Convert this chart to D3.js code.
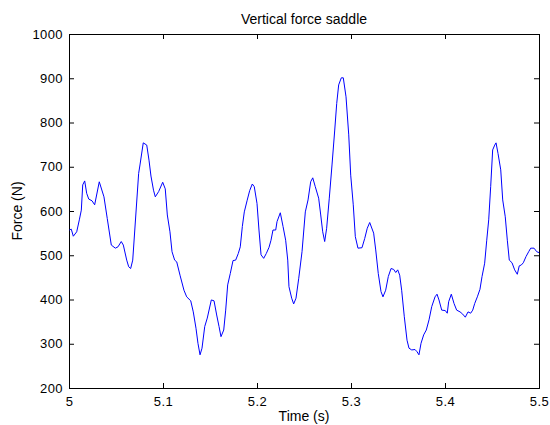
<!DOCTYPE html>
<html>
<head>
<meta charset="utf-8">
<script src="https://cdn.jsdelivr.net/npm/d3@7"></script>
<style>
  body { margin: 0; background: #fff; }
  svg text { font-family: "Liberation Sans", Arial, sans-serif; fill: #000; }
</style>
</head>
<body>
<div id="chart"></div>
<script>
// values
var times = [5.0003,5.0024,5.0046,5.0082,5.0110,5.0131,5.0146,5.0167,5.0188,5.0210,
  5.0245,5.0273,5.0322,5.0372,5.0407,5.0450,5.0493,5.0521,5.0556,5.0578,
  5.0614,5.0635,5.0656,5.0678,5.0741,5.0755,5.0790,5.0827,5.0851,5.0872,
  5.0899,5.0918,5.0954,5.0997,5.1024,5.1046,5.1074,5.1096,5.1124,5.1146,
  5.1181,5.1223,5.1252,5.1295,5.1322,5.1351,5.1372,5.1394,5.1415,5.1444,
  5.1471,5.1514,5.1543,5.1571,5.1596,5.1617,5.1646,5.1667,5.1688,5.1716,
  5.1745,5.1773,5.1801,5.1822,5.1844,5.1865,5.1894,5.1922,5.1950,5.1971,
  5.2000,5.2021,5.2043,5.2071,5.2099,5.2128,5.2149,5.2170,5.2199,5.2213,
  5.2248,5.2277,5.2305,5.2327,5.2340,5.2369,5.2390,5.2415,5.2444,5.2479,
  5.2514,5.2543,5.2571,5.2593,5.2620,5.2656,5.2678,5.2699,5.2720,5.2741,
  5.2769,5.2798,5.2827,5.2848,5.2869,5.2897,5.2918,5.2947,5.2976,5.2997,
  5.3024,5.3046,5.3074,5.3117,5.3146,5.3173,5.3199,5.3241,5.3263,5.3290,
  5.3319,5.3340,5.3369,5.3397,5.3426,5.3454,5.3476,5.3497,5.3518,5.3539,
  5.3567,5.3596,5.3617,5.3646,5.3681,5.3702,5.3723,5.3745,5.3773,5.3801,
  5.3830,5.3859,5.3894,5.3915,5.3936,5.3965,5.4003,5.4024,5.4039,5.4067,
  5.4096,5.4124,5.4160,5.4188,5.4216,5.4245,5.4273,5.4295,5.4316,5.4344,
  5.4372,5.4394,5.4422,5.4444,5.4465,5.4486,5.4507,5.4529,5.4543,5.4564,
  5.4593,5.4614,5.4641,5.4663,5.4684,5.4713,5.4741,5.4769,5.4790,5.4812,
  5.4833,5.4862,5.4890,5.4912,5.4947,5.4976,5.5000];
var forces = [557,559,543,553,580,602,659,668,640,627,
  623,614,666,632,583,523,516,519,531,523,
  489,474,470,489,685,704,754,749,715,679,
  647,632,644,665,650,591,553,508,489,485,
  455,421,406,397,372,335,301,275,290,339,
  358,399,397,365,339,316,331,376,433,459,
  488,489,504,519,565,598,623,646,661,655,
  617,557,501,493,504,518,534,557,557,576,
  596,565,534,489,429,403,390,403,448,508,
  598,625,666,675,655,629,591,553,531,561,
  629,704,783,843,885,901,901,858,772,681,
  614,542,516,517,538,561,574,550,512,459,
  418,406,421,452,470,468,461,467,455,421,
  361,308,290,286,287,282,275,301,320,331,
  354,384,406,412,399,376,375,369,395,412,
  391,376,372,367,360,372,369,376,391,406,
  423,452,482,534,580,655,738,749,754,730,
  693,625,587,534,489,483,467,457,476,478,
  483,497,508,516,516,508,506];
var xTicks = [5, 5.1, 5.2, 5.3, 5.4, 5.5];
var yTicks = [200, 300, 400, 500, 600, 700, 800, 900, 1000];

var margin = {top: 34, right: 11, bottom: 37, left: 69},
    width = 550 - margin.left - margin.right,
    height = 425 - margin.top - margin.bottom;

var svg = d3.select('#chart')
    .append('svg')
    .attr('width', 550)
    .attr('height', 425);
var g = svg.append('g')
    .attr('transform', 'translate(' + margin.left + ',' + margin.top + ')');

var x = d3.scaleLinear().domain([5, 5.5]).range([0, width]);
var y = d3.scaleLinear().domain([200, 1000]).range([height, 0]);

// matlab style: ticks point inward on all four sides
var fmt = function(d){ return String(d); };
g.append('g')
    .attr('transform', 'translate(0,' + height + ')')
    .call(d3.axisBottom(x).tickValues(xTicks).tickSize(-5).tickPadding(9).tickFormat(fmt));
g.append('g')
    .call(d3.axisTop(x).tickValues(xTicks).tickSize(-5).tickFormat(''));
g.append('g')
    .call(d3.axisLeft(y).tickValues(yTicks).tickSize(-5).tickPadding(6).tickFormat(fmt));
g.append('g')
    .attr('transform', 'translate(' + width + ',0)')
    .call(d3.axisRight(y).tickValues(yTicks).tickSize(-5).tickFormat(''));

g.selectAll('.domain').attr('stroke', '#000').attr('stroke-width', 1);
g.selectAll('.tick line').attr('stroke', '#000');
g.selectAll('.tick text')
    .attr('font-size', 13)
    .attr('font-family', '"Liberation Sans", Arial, sans-serif')
    .attr('letter-spacing', '0.4px');

var line = d3.line()
    .x(function(d, i){ return x(times[i]); })
    .y(function(d){ return y(d); });

g.append('path')
    .datum(forces)
    .attr('fill', 'none')
    .attr('stroke', '#0000ff')
    .attr('stroke-width', 1)
    .attr('d', line);

svg.append('text')
    .attr('x', margin.left + width / 2)
    .attr('y', 24)
    .attr('text-anchor', 'middle')
    .attr('font-size', 14)
    .text('Vertical force saddle');

svg.append('text')
    .attr('x', margin.left + width / 2)
    .attr('y', 421)
    .attr('text-anchor', 'middle')
    .attr('font-size', 14)
    .text('Time (s)');

svg.append('text')
    .attr('transform', 'translate(22,' + (margin.top + height / 2) + ') rotate(-90)')
    .attr('text-anchor', 'middle')
    .attr('font-size', 14)
    .text('Force (N)');
</script>
</body>
</html>
